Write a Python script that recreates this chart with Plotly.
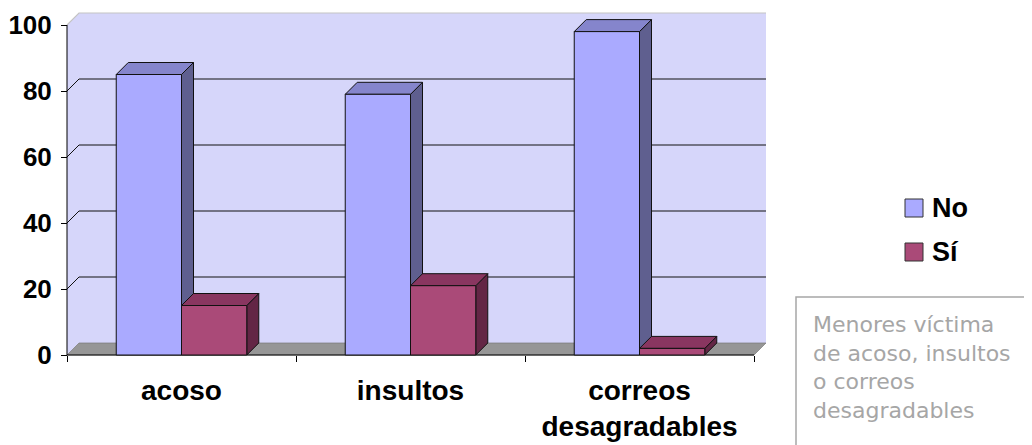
import plotly.graph_objects as go

# ---------------- data ----------------
categories = ["acoso", "insultos", "correos<br>desagradables"]
no_vals = [85, 79, 98]
si_vals = [15, 21, 2]
y_ticks = [0, 20, 40, 60, 80, 100]
series_names = ["No", "Sí"]
note_lines = ["Menores víctima", "de acoso, insultos", "o correos", "desagradables"]

# ---------------- layout geometry ----------------
OFF = 8               # page body margin of the browser
W, H = 1032 - OFF, 445 - OFF
# plot area in screenshot pixels
PL, PR, PT, PB = 62, 768, 10, 360
L, R, T, B = PL - OFF, W - (PR - OFF), PT - OFF, H - (PB - OFF)
PW, PH = W - L - R, H - T - B
X_FRONT0_PX = 67      # screenshot pixel of x=-0.5 (front plane)
UNIT_X = 229.0        # px per category
Y0_PX = 355           # screenshot pixel of y=0 (front plane)
UNIT_Y = 3.3          # px per value unit
DEPTH = 12            # 3D depth offset in px

xr0 = -0.5 - (X_FRONT0_PX - PL) / UNIT_X
xr1 = xr0 + PW / UNIT_X
yr0 = -(PB - Y0_PX) / UNIT_Y
yr1 = yr0 + PH / UNIT_Y
dx = DEPTH / UNIT_X
dy = DEPTH / UNIT_Y
BW = 0.285

def px2paper_x(px):
    return (px - PL) / PW

def py2paper_y(py):
    return (PB - py) / PH

WALL = "#D6D6FA"
NO_FRONT, NO_TOP, NO_SIDE = "#AAAAFF", "#8585CC", "#5F5F8F"
SI_FRONT, SI_TOP, SI_SIDE = "#AA4A78", "#893660", "#632645"

def poly(pts):
    return "M" + " L".join(f"{x},{y}" for x, y in pts) + " Z"

def line_path(pts):
    return "M" + " L".join(f"{x},{y}" for x, y in pts)

shapes = []
x_lo, x_hi = -0.5, len(categories) - 0.5
vmax = y_ticks[-1]
# left side wall
shapes.append(dict(type="path", xref="x", yref="y", layer="below",
                   path=poly([(x_lo, 0), (x_lo + dx, dy), (x_lo + dx, vmax + dy), (x_lo, vmax)]),
                   fillcolor=WALL, line=dict(width=0)))
# back wall
shapes.append(dict(type="rect", xref="x", yref="y", layer="below",
                   x0=x_lo + dx, x1=x_hi + dx, y0=dy, y1=vmax + dy,
                   fillcolor=WALL, line=dict(width=0)))
# floor
shapes.append(dict(type="path", xref="x", yref="y", layer="below",
                   path=poly([(x_lo, 0), (x_hi, 0), (x_hi + dx, dy), (x_lo + dx, dy)]),
                   fillcolor="#969696", line=dict(color="#7A7A7A", width=0.7)))
# gridlines on the walls
for v in y_ticks[1:-1]:
    shapes.append(dict(type="path", xref="x", yref="y", layer="below",
                       path=line_path([(x_lo, v), (x_lo + dx, v + dy), (x_hi + dx, v + dy)]),
                       line=dict(color="#111111", width=1)))
shapes.append(dict(type="path", xref="x", yref="y", layer="below",
                   path=line_path([(x_lo, vmax), (x_lo + dx, vmax + dy), (x_hi + dx, vmax + dy)]),
                   line=dict(color="#C4C4C4", width=1.2)))
# front axis lines
shapes.append(dict(type="line", xref="x", yref="y", layer="below",
                   x0=x_lo, x1=x_lo, y0=0, y1=vmax, line=dict(color="black", width=1)))
shapes.append(dict(type="line", xref="x", yref="y", layer="below",
                   x0=x_lo, x1=x_hi, y0=0, y1=0, line=dict(color="black", width=1)))

# 3D faces of bars (side + top), in drawing order
for i in range(len(categories)):
    for v, x0, top_c, side_c in [(no_vals[i], i - BW, NO_TOP, NO_SIDE),
                                 (si_vals[i], i, SI_TOP, SI_SIDE)]:
        x1 = x0 + BW
        shapes.append(dict(type="path", xref="x", yref="y", layer="below",
                           path=poly([(x1, 0), (x1 + dx, dy), (x1 + dx, v + dy), (x1, v)]),
                           fillcolor=side_c, line=dict(color="#111111", width=1)))
        shapes.append(dict(type="path", xref="x", yref="y", layer="below",
                           path=poly([(x0, v), (x1, v), (x1 + dx, v + dy), (x0 + dx, v + dy)]),
                           fillcolor=top_c, line=dict(color="#111111", width=1)))

fig = go.Figure()
fig.add_trace(go.Bar(x=list(range(len(categories))), y=no_vals, name=series_names[0],
                     width=BW, offset=-BW,
                     marker=dict(color=NO_FRONT, line=dict(color="#111111", width=1)),
                     showlegend=False))
fig.add_trace(go.Bar(x=list(range(len(categories))), y=si_vals, name=series_names[1],
                     width=BW, offset=0,
                     marker=dict(color=SI_FRONT, line=dict(color="#111111", width=1)),
                     showlegend=False))

# legend (manual)
annotations = []
for name, col, cy in [(series_names[0], NO_FRONT, 208), (series_names[1], SI_FRONT, 252)]:
    shapes.append(dict(type="rect", xref="paper", yref="paper",
                       x0=px2paper_x(905), x1=px2paper_x(923),
                       y0=py2paper_y(cy + 9), y1=py2paper_y(cy - 9),
                       fillcolor=col, line=dict(color="#333333", width=1)))
    annotations.append(dict(xref="paper", yref="paper", x=px2paper_x(930), y=py2paper_y(cy),
                            xanchor="left", yanchor="middle", showarrow=False, text=name,
                            font=dict(family="Liberation Sans, Arial", size=27, color="black", weight="bold")))

# note box
shapes.append(dict(type="rect", xref="paper", yref="paper",
                   x0=px2paper_x(796), x1=px2paper_x(1045),
                   y0=py2paper_y(460), y1=py2paper_y(297),
                   fillcolor="rgba(0,0,0,0)", line=dict(color="#A6A6A6", width=1.5)))
annotations.append(dict(xref="paper", yref="paper", x=px2paper_x(811), y=py2paper_y(310),
                        xanchor="left", yanchor="top", align="left", showarrow=False,
                        text="<br>".join(note_lines),
                        font=dict(family="DejaVu Sans", size=22, color="#A6A6A6")))

bold = dict(family="Liberation Sans, Arial", size=26, color="black", weight="bold")
fig.update_layout(
    width=W, height=H,
    margin=dict(l=L, r=R, t=T, b=B, autoexpand=False),
    paper_bgcolor="white", plot_bgcolor="white",
    barmode="overlay",
    shapes=shapes, annotations=annotations,
    showlegend=False,
    xaxis=dict(range=[xr0, xr1], showgrid=False, zeroline=False, showline=False,
               tickmode="array", tickvals=list(range(len(categories))), ticktext=categories,
               ticks="", tickfont=dict(bold, size=28), ticklabelstandoff=16,
               anchor="free", position=py2paper_y(Y0_PX),
               minor=dict(tickmode="array", tickvals=[x_lo + k for k in range(len(categories) + 1)],
                          ticks="outside", ticklen=6, tickcolor="black", tickwidth=1, showgrid=False)),
    yaxis=dict(range=[yr0, yr1], showgrid=False, zeroline=False, showline=False,
               tickmode="array", tickvals=y_ticks, ticks="outside", ticklen=6,
               tickcolor="black", tickwidth=1, tickfont=bold, ticklabelstandoff=4,
               anchor="free", position=px2paper_x(X_FRONT0_PX)),
)

fig.write_html("out.html")
